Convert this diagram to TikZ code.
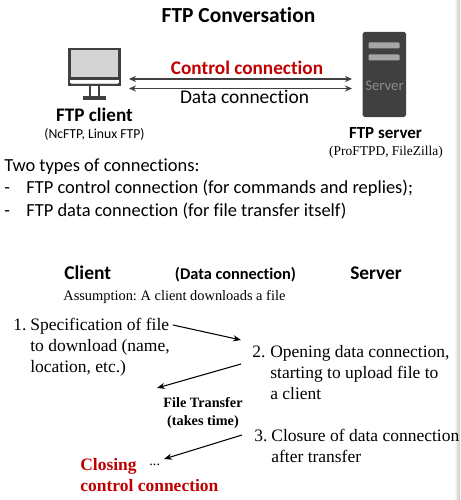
\documentclass[tikz,border=0pt]{standalone}
\usepackage{fontspec}
\setmainfont{Liberation Serif}
\newfontfamily\cali[Ligatures=NoCommon]{Carlito}
\usepackage{tikz}
\usetikzlibrary{arrows.meta}
\definecolor{darkred}{RGB}{192,0,0}
\definecolor{icon}{RGB}{64,64,64}
\frenchspacing
\tikzset{
  x=0.02cm, y=-0.02cm,
  cal/.style={inner sep=0pt, font=\cali\fontsize{#1}{#1}\selectfont},
  calb/.style={inner sep=0pt, font=\cali\bfseries\fontsize{#1}{#1}\selectfont},
  ser/.style={inner sep=0pt, font=\fontsize{#1}{#1}\selectfont},
  serb/.style={inner sep=0pt, font=\bfseries\fontsize{#1}{#1}\selectfont},
  stepline/.style={ser=9.95, anchor=base west},
  conn/.style={<->, >={Stealth[length=4pt,width=3.5pt]}, icon, line width=0.6pt},
  seq/.style={->, >={Stealth[length=4.5pt,width=3.5pt]}, line width=0.6pt}
}
\begin{document}
\begin{tikzpicture}
\useasboundingbox (0,0) rectangle (460,500);
\shade [left color=white, right color=black!22] (454,0) rectangle (460,500);
\node [calb=12.2, anchor=base] (title) at (238.5,23) {FTP Conversation};

% client monitor
\draw [icon, line width=1.3pt, fill=black!17] (69.5,49) rectangle (119.5,85);
\fill [white] (70,79) rectangle (119,83.5);
\draw [icon, line width=1.3pt] (69.5,78.5) -- (119.5,78.5);
\draw [icon, line width=1.3pt] (90,85) -- (90,97) (99,85) -- (99,97);
\draw [icon, line width=1.8pt] (83,98) -- (106,98);
\coordinate (clientr) at (129,79);
\coordinate (clientr2) at (129,88.5);

% server box
\fill [icon, rounded corners=1pt] (362.5,32) rectangle (406,117);
\fill [black!35, rounded corners=0.5pt] (368.5,42.5) rectangle (399.5,48.5);
\fill [black!35, rounded corners=0.5pt] (368.5,54.5) rectangle (399.5,60.5);
\node [cal=8.4, text=black!45] (srvtxt) at (384.5,86) {Server};
\coordinate (serverl) at (352,79);
\coordinate (serverl2) at (352,88.5);

\draw [conn] (clientr) -- (serverl);
\draw [conn] (clientr2) -- (serverl2);
\node [calb=10.95, text=darkred, anchor=base] (ctrl) at (247,74) {Control connection};
\node [cal=11.05, anchor=base] (data) at (244.5,104) {Data connection};

\node [calb=10.9, anchor=base] (client) at (94.5,121) {FTP client};
\node [cal=7.8, anchor=base] (clientsw) at (94.5,138) {(NcFTP, Linux FTP)};
\node [calb=9.65, anchor=base] (server) at (385.5,138) {FTP server};
\node [ser=7.67, anchor=base] (serversw) at (386,155) {(ProFTPD, FileZilla)};

\node [cal=10.5, anchor=base west] (intro) at (4,171) {Two types of connections:};
\node [cal=10.5, anchor=base west] (dash1) at (4,193) {-};
\node [cal=10.5, anchor=base west] (item1) at (26,193) {FTP control connection (for commands and replies);};
\node [cal=10.5, anchor=base west] (dash2) at (4,216) {-};
\node [cal=10.5, anchor=base west] (item2) at (26,216) {FTP data connection (for file transfer itself)};

\node [calb=11.1, anchor=base west] (hclient) at (64,279) {Client};
\node [calb=9.3, anchor=base] (hdata) at (235.5,279) {(Data connection)};
\node [calb=11, anchor=base west] (hserver) at (350,279) {Server};
\node [ser=8.2, anchor=base west] (assume) at (63,300) {Assumption: A client downloads a file};

\node [stepline] (num1) at (13,330) {1.};
\node [stepline] (s1) at (30,330) {Specification of file};
\node [stepline] (s1b) at (30,351) {to download (name,};
\node [stepline] (s1c) at (30,372) {location, etc.)};

\node [stepline] (num2) at (252,357) {2.};
\node [stepline] (s2) at (270,357) {Opening data connection,};
\node [stepline] (s2b) at (270,378) {starting to upload file to};
\node [stepline] (s2c) at (270,399) {a client};

\node [serb=8.1, anchor=base] (ft) at (203,407) {File Transfer};
\node [serb=8.1, anchor=base] (tt) at (203,425) {(takes time)};

\node [stepline] (num3) at (254,441) {3.};
\node [stepline] (s3) at (271,441) {Closure of data connection};
\node [stepline] (s3b) at (271,462) {after transfer};

\node [serb=9.95, text=darkred, anchor=base west] (close) at (80,470) {Closing};
\node [serb=9.95, text=darkred, anchor=base west] (closeb) at (80,491) {control connection};
\node [ser=8.17, anchor=base west] (dots) at (149,465) {...};

% sequence arrows
\coordinate (a1) at (173,325);
\coordinate (a2) at (241,340);
\coordinate (b1) at (241,364);
\coordinate (b2) at (157,388);
\coordinate (c1) at (242,435);
\coordinate (c2) at (164,459);
\draw [seq] (a1) -- (a2);
\draw [seq] (b1) -- (b2);
\draw [seq] (c1) -- (c2);
\end{tikzpicture}
\end{document}
